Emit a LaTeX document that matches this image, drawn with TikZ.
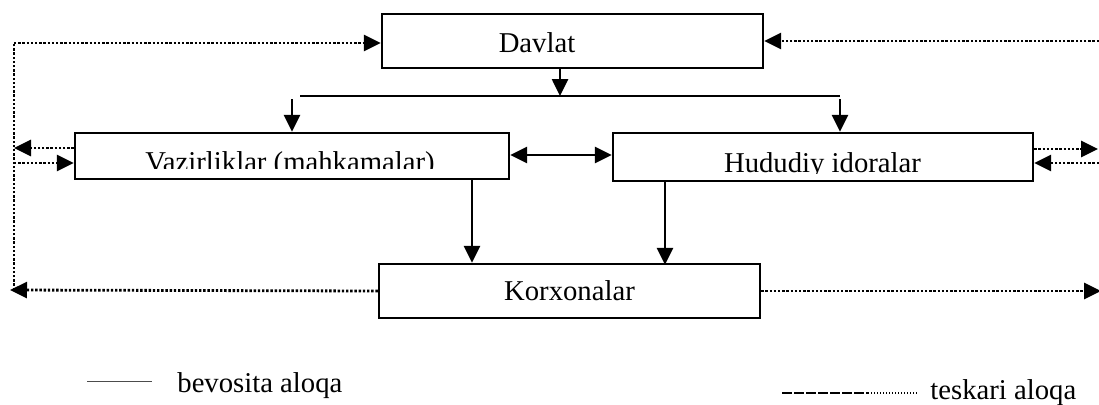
\documentclass[tikz,border=0pt]{standalone}
\usepackage{fontspec}
\setmainfont{Liberation Serif}
\usetikzlibrary{arrows.meta}
\tikzset{
  box/.style={draw, line width=1.2pt, inner sep=0pt, fill=none},
  txt/.style={inner sep=0pt, font=\fontsize{14.35pt}{17pt}\selectfont},
  sol/.style={line width=1.3pt},
  arr/.style={line width=1.3pt, -{Triangle[length=8.5pt,width=8pt]}},
  darr/.style={line width=1.3pt, {Triangle[length=8.5pt,width=8pt]}-{Triangle[length=8.5pt,width=8pt]}},
  dot/.style={line width=1.4pt, dash pattern=on 1.2pt off 0.9pt},
  dotarr/.style={dot, -{Triangle[length=8.5pt,width=8pt]}},
  legthin/.style={line width=0.5pt, draw=black!70},
}
\begin{document}
\begin{tikzpicture}[x=0.5pt,y=-0.5pt]
\useasboundingbox (0,0) rectangle (1099,404);

% boxes
\node[box, minimum width=190.5pt, minimum height=27pt] (d) at (572.5,41) {};
\node[box, minimum width=217pt, minimum height=23pt] (v) at (292,156) {};
\node[box, minimum width=210pt, minimum height=24pt] (h) at (823,157) {};
\node[box, minimum width=190.5pt, minimum height=27pt, txt] (k) at (569.5,291) {Korxonalar};

% box texts
\node[txt, anchor=base] (dt) at (537,52) {Davlat};
\begin{scope}
  \clip (75,133) rectangle (509,168.5);
  \node[txt, anchor=base] (vt) at (290,171) {Vazirliklar (mahkamalar)};
\end{scope}
\begin{scope}
  \clip (613,133) rectangle (1033,173.5);
  \node[txt, anchor=base] (ht) at (822.5,172) {Hududiy idoralar};
\end{scope}

% direct links
\coordinate (bl) at (300,96);
\coordinate (br) at (840,96);
\coordinate (bm) at (560,96);
\coordinate (a1) at (292,99);
\coordinate (a2) at (840,99);
\coordinate (cV) at (472,0);
\coordinate (cH) at (665,0);
\coordinate (dm) at (560,155);
\draw[arr] (d.south -| bm) -- (bm);
\draw[sol] (bl) -- (br);
\draw[arr] (a1) -- (a1 |- v.north);
\draw[arr] (a2) -- (a2 |- h.north);
\draw[darr] (dm -| v.east) -- (dm -| h.west);
\draw[arr] (v.south -| cV) -- (k.north -| cV);
\draw[arr] (h.south -| cH) -- ([yshift=-1pt]k.north -| cH);

% feedback links (left)
\coordinate (Lt) at (14,43);
\coordinate (Lb) at (14,290);
\coordinate (Ltip) at (10,290);
\coordinate (Lm1) at (14,148);
\coordinate (Lm2) at (14,163);
\draw[dot] (Lb) -- (Lt);
\draw[dotarr] (Lt) -- (Lt -| d.west);
\draw[dotarr] (Lm1 -| v.west) -- (Lm1);
\draw[dotarr] (Lm2) -- (Lm2 -| v.west);
\draw[dotarr] (k.west) -- (Ltip);

% feedback links (right)
\coordinate (Rt) at (1099,41);
\coordinate (Rm1) at (1098,149);
\coordinate (Rm2) at (1099,163);
\coordinate (Rb) at (1101,291);
\draw[dotarr] (Rt) -- (d.east);
\draw[dotarr] (Rm1 -| h.east) -- (Rm1);
\draw[dotarr] (Rm2) -- (Rm2 -| h.east);
\draw[dotarr] (k.east) -- (Rb);

% legend
\coordinate (l1a) at (87,381);
\coordinate (l1b) at (152,381);
\draw[legthin] (l1a) -- (l1b);
\node[txt, anchor=base west] (lt1) at (177,392) {bevosita aloqa};
\coordinate (l2a) at (782,393);
\coordinate (l2m) at (868,393);
\coordinate (l2b) at (917,393);
\draw[line width=1pt, dash pattern=on 5pt off 1pt] (l2a) -- (l2m);
\draw[line width=0.7pt, dash pattern=on 0.7pt off 0.8pt] (l2m) -- (l2b);
\node[txt, anchor=base west] (lt2) at (930,399) {teskari aloqa};
\end{tikzpicture}
\end{document}
